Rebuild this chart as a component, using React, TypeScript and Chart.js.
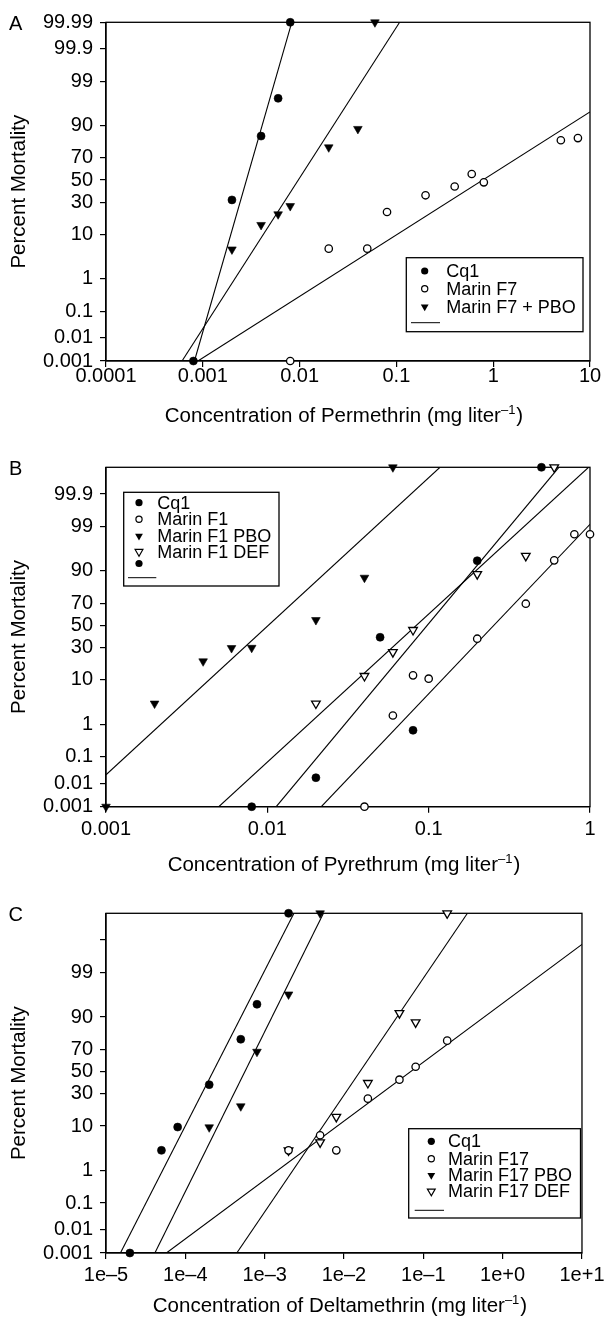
import React, { useEffect, useRef } from 'react';
import { Chart, registerables, LinearScale } from 'chart.js';

Chart.register(...registerables);

const FONT = "'Liberation Sans', Arial, Helvetica, sans-serif";
const TICK_SIZE = 20;
const TITLE_SIZE = 20.5;
const LEGEND_SIZE = 18;
Chart.defaults.font.family = FONT;
Chart.defaults.font.size = TICK_SIZE;
Chart.defaults.color = '#000';

// ---------------- DATA ----------------
// Panel A — Permethrin
const A_X_TICKS = [0.0001, 0.001, 0.01, 0.1, 1, 10];
const A_X_LABELS = ['0.0001', '0.001', '0.01', '0.1', '1', '10'];
const A_Y_TICKS = [0.001, 0.01, 0.1, 1, 10, 30, 50, 70, 90, 99, 99.9, 99.99];
const A_Y_LABELS = ['0.001', '0.01', '0.1', '1', '10', '30', '50', '70', '90', '99', '99.9', '99.99'];
const A_CQ1_X = [0.0008, 0.002, 0.004, 0.006, 0.008];
const A_CQ1_Y = [0.001, 32, 85, 97.3, 99.99];
const A_F7_X = [0.008, 0.02, 0.05, 0.08, 0.2, 0.4, 0.6, 0.8, 5, 7.5];
const A_F7_Y = [0.001, 5.3, 5.3, 22.6, 36, 44, 55.7, 47.9, 82.6, 83.9];
const A_PBO_X = [0.002, 0.004, 0.006, 0.008, 0.02, 0.04, 0.06];
const A_PBO_Y = [5.1, 14.5, 21, 27, 78, 88.6, 99.99];
const A_LINE_CQ1_X = [0.00082, 0.0083];
const A_LINE_CQ1_Y = [0.001, 99.99];
const A_LINE_F7_X = [0.00089, 10];
const A_LINE_F7_Y = [0.001, 94.6];
const A_LINE_PBO_X = [0.00061, 0.108];
const A_LINE_PBO_Y = [0.001, 99.99];
const A_NAMES = ['Cq1', 'Marin F7', 'Marin F7 + PBO'];

// Panel B — Pyrethrum
const B_X_TICKS = [0.001, 0.01, 0.1, 1];
const B_X_LABELS = ['0.001', '0.01', '0.1', '1'];
const B_Y_TICKS = [0.001, 0.01, 0.1, 1, 10, 30, 50, 70, 90, 99, 99.9];
const B_Y_LABELS = ['0.001', '0.01', '0.1', '1', '10', '30', '50', '70', '90', '99', '99.9'];
const B_CQ1_X = [0.008, 0.02, 0.05, 0.08, 0.2, 0.5];
const B_CQ1_Y = [0.001, 0.017, 39, 0.68, 93.6, 99.99];
const B_F1_X = [0.04, 0.06, 0.08, 0.1, 0.2, 0.4, 0.6, 0.8, 1];
const B_F1_Y = [0.001, 1.7, 12, 10.5, 37.7, 69.5, 93.7, 98.4, 98.4];
const B_PBO_X = [0.001, 0.002, 0.004, 0.006, 0.008, 0.02, 0.04, 0.06];
const B_PBO_Y = [0.001, 3.3, 19.9, 29.7, 29.9, 55, 86.9, 99.99];
const B_DEF_X = [0.02, 0.04, 0.06, 0.08, 0.2, 0.4, 0.6];
const B_DEF_Y = [3.3, 11.7, 26.5, 45.7, 88.6, 94.9, 99.99];
const B_LINE_PBO_X = [0.001, 0.1175];
const B_LINE_PBO_Y = [0.022, 99.99];
const B_LINE_DEF_X = [0.005, 0.98];
const B_LINE_DEF_Y = [0.001, 99.99];
const B_LINE_CQ1_X = [0.01135, 0.641];
const B_LINE_CQ1_Y = [0.001, 99.99];
const B_LINE_F1_X = [0.0216, 1];
const B_LINE_F1_Y = [0.001, 99.13];
const B_NAMES = ['Cq1', 'Marin F1', 'Marin F1 PBO', 'Marin F1 DEF', ''];

// Panel C — Deltamethrin
const C_X_TICKS = [1e-5, 1e-4, 1e-3, 1e-2, 1e-1, 1, 10];
const C_X_LABELS = ['1e\u20135', '1e\u20134', '1e\u20133', '1e\u20132', '1e\u20131', '1e+0', '1e+1'];
const C_Y_TICKS = [0.001, 0.01, 0.1, 1, 10, 30, 50, 70, 90, 99, 99.9];
const C_Y_LABELS = ['0.001', '0.01', '0.1', '1', '10', '30', '50', '70', '90', '99', ''];
const C_CQ1_X = [0.00002, 0.00005, 0.00008, 0.0002, 0.0005, 0.0008, 0.002];
const C_CQ1_Y = [0.001, 3.2, 9.6, 37.9, 77.6, 94.3, 99.99];
const C_F17_X = [0.002, 0.005, 0.008, 0.02, 0.05, 0.08, 0.2];
const C_F17_Y = [3.2, 6.7, 3.2, 26.2, 42.4, 54.5, 76.6];
const C_PBO_X = [0.0002, 0.0005, 0.0008, 0.002, 0.005];
const C_PBO_Y = [9.5, 20.7, 67.9, 96.5, 99.99];
const C_DEF_X = [0.002, 0.005, 0.008, 0.02, 0.05, 0.08, 0.2];
const C_DEF_Y = [3.2, 4.8, 14.3, 39.4, 91.5, 87.6, 99.99];
const C_LINE_CQ1_X = [1.52e-5, 0.00234];
const C_LINE_CQ1_Y = [0.001, 99.99];
const C_LINE_PBO_X = [4.13e-5, 0.00551];
const C_LINE_PBO_Y = [0.001, 99.99];
const C_LINE_F17_X = [5.77e-5, 10];
const C_LINE_F17_Y = [0.001, 99.86];
const C_LINE_DEF_X = [0.000445, 0.36];
const C_LINE_DEF_Y = [0.001, 99.99];
const C_NAMES = ['Cq1', 'Marin F17', 'Marin F17 PBO', 'Marin F17 DEF'];

const Y_TITLE = 'Percent Mortality';

// ---------------- PROBIT SCALE ----------------
function invNorm(p: number): number {
  const a = [-3.969683028665376e1, 2.209460984245205e2, -2.759285104469687e2, 1.38357751867269e2, -3.066479806614716e1, 2.506628277459239];
  const b = [-5.447609879822406e1, 1.615858368580409e2, -1.556989798598866e2, 6.680131188771972e1, -1.328068155288572e1];
  const c = [-7.784894002430293e-3, -3.223964580411365e-1, -2.400758277161838, -2.549671010135128, 4.374664141464968, 2.938163982698783];
  const d = [7.784695709041462e-3, 3.224671290700398e-1, 2.445134137142996, 3.754408661907416];
  const pl = 0.02425;
  if (p < pl) {
    const q = Math.sqrt(-2 * Math.log(p));
    return (((((c[0] * q + c[1]) * q + c[2]) * q + c[3]) * q + c[4]) * q + c[5]) / ((((d[0] * q + d[1]) * q + d[2]) * q + d[3]) * q + 1);
  }
  if (p <= 1 - pl) {
    const q = p - 0.5;
    const r = q * q;
    return ((((((a[0] * r + a[1]) * r + a[2]) * r + a[3]) * r + a[4]) * r + a[5]) * q) / (((((b[0] * r + b[1]) * r + b[2]) * r + b[3]) * r + b[4]) * r + 1);
  }
  const q = Math.sqrt(-2 * Math.log(1 - p));
  return -(((((c[0] * q + c[1]) * q + c[2]) * q + c[3]) * q + c[4]) * q + c[5]) / ((((d[0] * q + d[1]) * q + d[2]) * q + d[3]) * q + 1);
}
function probitPct(v: number): number {
  const p = Math.min(Math.max(v / 100, 1e-9), 1 - 1e-9);
  return invNorm(p);
}

class ProbitScale extends LinearScale {
  static id = 'probit';
  static defaults = {};
  determineDataLimits() {
    const o: any = (this as any).options;
    (this as any).min = probitPct(o.min);
    (this as any).max = probitPct(o.max);
  }
  buildTicks() {
    return [];
  }
  getPixelForValue(value: any) {
    if (value === null || value === undefined || isNaN(value)) return NaN;
    const s: any = this;
    return s.getPixelForDecimal((probitPct(value) - s._startValue) / s._valueRange);
  }
}
Chart.register(ProbitScale as any);

// ---------------- HELPERS ----------------
type Kind = 'dot' | 'ring' | 'tri' | 'otri';
const pts = (xs: number[], ys: number[]) => xs.map((x, i) => ({ x, y: ys[i] }));

function pointSet(label: string, xs: number[], ys: number[], kind: Kind) {
  const tri = kind === 'tri' || kind === 'otri';
  const filled = kind === 'dot' || kind === 'tri';
  return {
    label,
    data: pts(xs, ys),
    showLine: false,
    pointStyle: tri ? 'triangle' : 'circle',
    pointRotation: tri ? 180 : 0,
    pointRadius: tri ? 5 : filled ? 4 : 3.7,
    pointBackgroundColor: filled ? '#000' : '#fff',
    pointBorderColor: '#000',
    pointBorderWidth: filled ? 0.6 : 1.3,
    clip: false,
  };
}
function lineSet(xs: number[], ys: number[]) {
  return {
    label: '',
    data: pts(xs, ys),
    showLine: true,
    pointRadius: 0,
    borderColor: '#000',
    borderWidth: 1.1,
    fill: false,
  };
}

function drawMarker(ctx: CanvasRenderingContext2D, kind: Kind, x: number, y: number) {
  ctx.save();
  ctx.lineWidth = 1.2;
  ctx.strokeStyle = '#000';
  ctx.fillStyle = '#000';
  ctx.beginPath();
  if (kind === 'dot' || kind === 'ring') {
    ctx.arc(x, y, kind === 'dot' ? 3.6 : 3.1, 0, Math.PI * 2);
  } else {
    const r = 4.5;
    ctx.moveTo(x, y + r);
    ctx.lineTo(x - r * 0.866, y - r / 2);
    ctx.lineTo(x + r * 0.866, y - r / 2);
    ctx.closePath();
  }
  if (kind === 'ring' || kind === 'otri') {
    ctx.fillStyle = '#fff';
    ctx.fill();
    ctx.stroke();
  } else {
    ctx.fill();
  }
  ctx.restore();
}

type PanelCfg = {
  key: string;
  letter: string;
  canvasTop: number;
  canvasH: number;
  area: { top: number; bottom: number; left: number; right: number };
  xMin: number;
  xMax: number;
  xTicks: number[];
  xLabels: string[];
  yTicks: number[];
  yLabels: string[];
  xLabelCenter: number;
  titleMain: string;
  titleBaseline: number;
  letterY: number;
  legend: {
    box: [number, number, number, number];
    markerX: number;
    textX: number;
    rows: number[];
    kinds: Kind[];
    names: string[];
    lineY: number;
    lineX: [number, number];
  };
  datasets: any[];
};

const PANELS: PanelCfg[] = [
  {
    key: 'A',
    letter: 'A',
    canvasTop: 0,
    canvasH: 440,
    area: { top: 22.3, bottom: 361, left: 106, right: 590 },
    xMin: 0.0001,
    xMax: 10,
    xTicks: A_X_TICKS,
    xLabels: A_X_LABELS,
    yTicks: A_Y_TICKS,
    yLabels: A_Y_LABELS,
    xLabelCenter: 376,
    titleMain: 'Concentration of Permethrin (mg liter',
    titleBaseline: 422,
    letterY: 24,
    legend: {
      box: [406.3, 257.7, 583, 331.7],
      markerX: 424.7,
      textX: 446.3,
      rows: [271, 288.7, 306.7],
      kinds: ['dot', 'ring', 'tri'],
      names: A_NAMES,
      lineY: 322.7,
      lineX: [411, 440],
    },
    datasets: [
      pointSet(A_NAMES[0], A_CQ1_X, A_CQ1_Y, 'dot'),
      pointSet(A_NAMES[1], A_F7_X, A_F7_Y, 'ring'),
      pointSet(A_NAMES[2], A_PBO_X, A_PBO_Y, 'tri'),
      lineSet(A_LINE_CQ1_X, A_LINE_CQ1_Y),
      lineSet(A_LINE_F7_X, A_LINE_F7_Y),
      lineSet(A_LINE_PBO_X, A_LINE_PBO_Y),
    ],
  },
  {
    key: 'B',
    letter: 'B',
    canvasTop: 440,
    canvasH: 440,
    area: { top: 467.3, bottom: 806.7, left: 106, right: 590 },
    xMin: 0.001,
    xMax: 1,
    xTicks: B_X_TICKS,
    xLabels: B_X_LABELS,
    yTicks: B_Y_TICKS,
    yLabels: B_Y_LABELS,
    xLabelCenter: 829.5,
    titleMain: 'Concentration of Pyrethrum (mg liter',
    titleBaseline: 870.5,
    letterY: 469.3,
    legend: {
      box: [123.7, 492.3, 279, 586],
      markerX: 139,
      textX: 157.3,
      rows: [502.7, 519.3, 536, 551.7, 563.5],
      kinds: ['dot', 'ring', 'tri', 'otri', 'dot'],
      names: B_NAMES,
      lineY: 577.7,
      lineX: [128, 156.3],
    },
    datasets: [
      pointSet(B_NAMES[0], B_CQ1_X, B_CQ1_Y, 'dot'),
      pointSet(B_NAMES[1], B_F1_X, B_F1_Y, 'ring'),
      pointSet(B_NAMES[2], B_PBO_X, B_PBO_Y, 'tri'),
      pointSet(B_NAMES[3], B_DEF_X, B_DEF_Y, 'otri'),
      lineSet(B_LINE_PBO_X, B_LINE_PBO_Y),
      lineSet(B_LINE_DEF_X, B_LINE_DEF_Y),
      lineSet(B_LINE_CQ1_X, B_LINE_CQ1_Y),
      lineSet(B_LINE_F1_X, B_LINE_F1_Y),
    ],
  },
  {
    key: 'C',
    letter: 'C',
    canvasTop: 880,
    canvasH: 440,
    area: { top: 913.3, bottom: 1253, left: 106, right: 591 },
    xMin: 1e-5,
    xMax: 10,
    xTicks: C_X_TICKS,
    xLabels: C_X_LABELS,
    yTicks: C_Y_TICKS,
    yLabels: C_Y_LABELS,
    xLabelCenter: 1275.5,
    titleMain: 'Concentration of Deltamethrin (mg liter',
    titleBaseline: 1312,
    letterY: 915,
    legend: {
      box: [408.7, 1128.7, 580.5, 1218],
      markerX: 431.3,
      textX: 448,
      rows: [1141.3, 1158.7, 1175.3, 1191.3],
      kinds: ['dot', 'ring', 'tri', 'otri'],
      names: C_NAMES,
      lineY: 1210.3,
      lineX: [414.7, 444],
    },
    datasets: [
      pointSet(C_NAMES[0], C_CQ1_X, C_CQ1_Y, 'dot'),
      pointSet(C_NAMES[1], C_F17_X, C_F17_Y, 'ring'),
      pointSet(C_NAMES[2], C_PBO_X, C_PBO_Y, 'tri'),
      pointSet(C_NAMES[3], C_DEF_X, C_DEF_Y, 'otri'),
      lineSet(C_LINE_CQ1_X, C_LINE_CQ1_Y),
      lineSet(C_LINE_PBO_X, C_LINE_PBO_Y),
      lineSet(C_LINE_F17_X, C_LINE_F17_Y),
      lineSet(C_LINE_DEF_X, C_LINE_DEF_Y),
    ],
  },
];

function makeDecor(p: PanelCfg) {
  return {
    id: 'decor' + p.key,
    beforeDatasetsDraw(chart: any) {
      const { ctx, chartArea: a } = chart;
      ctx.save();
      ctx.strokeStyle = '#000';
      ctx.lineWidth = 1.3;
      ctx.strokeRect(a.left, a.top, a.right - a.left, a.bottom - a.top);
      ctx.restore();
    },
    afterDraw(chart: any) {
      const { ctx, chartArea: a } = chart;
      const dy = p.canvasTop;
      ctx.save();
      ctx.fillStyle = '#000';
      // panel letter
      ctx.font = `${TICK_SIZE}px ${FONT}`;
      ctx.textAlign = 'center';
      ctx.textBaseline = 'middle';
      ctx.fillText(p.letter, 15.6, p.letterY - dy);
      // y title
      ctx.font = `${TITLE_SIZE}px ${FONT}`;
      ctx.save();
      ctx.translate(19, (a.top + a.bottom) / 2);
      ctx.rotate(-Math.PI / 2);
      ctx.fillText(Y_TITLE, 0, 0);
      ctx.restore();
      // x title with superscript
      ctx.textAlign = 'left';
      ctx.textBaseline = 'alphabetic';
      const main = p.titleMain;
      const sup = '\u20131';
      const supSize = 13;
      ctx.font = `${TITLE_SIZE}px ${FONT}`;
      const wMain = ctx.measureText(main).width;
      const wClose = ctx.measureText(')').width;
      ctx.font = `${supSize}px ${FONT}`;
      const wSup = ctx.measureText(sup).width;
      const total = wMain + wSup + 1 + wClose;
      const cx = (a.left + a.right) / 2 - 4;
      let x0 = cx - total / 2;
      const by = p.titleBaseline - dy;
      ctx.font = `${TITLE_SIZE}px ${FONT}`;
      ctx.fillText(main, x0, by);
      x0 += wMain;
      ctx.font = `${supSize}px ${FONT}`;
      ctx.fillText(sup, x0, by - 8);
      x0 += wSup + 1;
      ctx.font = `${TITLE_SIZE}px ${FONT}`;
      ctx.fillText(')', x0, by);
      // legend
      const L = p.legend;
      const [bx0, by0, bx1, by1] = L.box;
      ctx.fillStyle = '#fff';
      ctx.fillRect(bx0, by0 - dy, bx1 - bx0, by1 - by0);
      ctx.strokeStyle = '#000';
      ctx.lineWidth = 1.3;
      ctx.strokeRect(bx0, by0 - dy, bx1 - bx0, by1 - by0);
      ctx.fillStyle = '#000';
      ctx.textBaseline = 'middle';
      ctx.font = `${LEGEND_SIZE}px ${FONT}`;
      L.rows.forEach((ry, i) => {
        drawMarker(ctx, L.kinds[i], L.markerX, ry - dy);
        if (L.names[i]) ctx.fillText(L.names[i], L.textX, ry - dy + 1);
      });
      ctx.beginPath();
      ctx.lineWidth = 1;
      ctx.moveTo(L.lineX[0], L.lineY - dy);
      ctx.lineTo(L.lineX[1], L.lineY - dy);
      ctx.stroke();
      ctx.restore();
    },
  };
}

function buildConfig(p: PanelCfg): any {
  const tl = 6;
  const xPad = p.xLabelCenter - p.area.bottom - tl - TICK_SIZE / 2;
  return {
    type: 'scatter',
    data: { datasets: p.datasets },
    plugins: [makeDecor(p)],
    options: {
      responsive: false,
      devicePixelRatio: 1,
      animation: false,
      events: [],
      layout: {
        padding: {
          top: p.area.top - p.canvasTop,
          left: 0,
          right: 611 - p.area.right,
          bottom: 0,
        },
      },
      plugins: { legend: { display: false }, tooltip: { enabled: false } },
      scales: {
        x: {
          type: 'logarithmic',
          position: 'bottom',
          min: p.xMin,
          max: p.xMax,
          afterBuildTicks: (s: any) => {
            s.ticks = p.xTicks.map((v) => ({ value: v }));
          },
          afterFit: (s: any) => {
            s.height = p.canvasTop + p.canvasH - p.area.bottom;
          },
          grid: { display: true, drawOnChartArea: false, drawTicks: true, tickLength: tl, color: '#000', lineWidth: 1.2 },
          border: { display: true, color: '#000', width: 1.3 },
          ticks: {
            color: '#000',
            font: { size: TICK_SIZE, family: FONT, lineHeight: 1 },
            padding: xPad,
            autoSkip: false,
            maxRotation: 0,
            minRotation: 0,
            callback: (_v: any, i: number) => p.xLabels[i],
          },
        },
        y: {
          type: 'probit',
          position: 'left',
          min: 0.001,
          max: 99.99,
          afterBuildTicks: (s: any) => {
            s.ticks = p.yTicks.map((v) => ({ value: v }));
          },
          afterFit: (s: any) => {
            s.width = p.area.left;
          },
          grid: { display: true, drawOnChartArea: false, drawTicks: true, tickLength: tl, color: '#000', lineWidth: 1.2 },
          border: { display: true, color: '#000', width: 1.3 },
          ticks: {
            color: '#000',
            font: { size: TICK_SIZE, family: FONT, lineHeight: 1 },
            padding: 7,
            autoSkip: false,
            callback: (_v: any, i: number) => p.yLabels[i],
          },
        },
      },
    },
  };
}

function Panel({ p }: { p: PanelCfg }) {
  const ref = useRef<HTMLCanvasElement>(null);
  useEffect(() => {
    if (!ref.current) return;
    const chart = new Chart(ref.current, buildConfig(p));
    return () => chart.destroy();
  }, [p]);
  return (
    <canvas
      ref={ref}
      width={611}
      height={p.canvasH}
      style={{ position: 'absolute', left: 0, top: p.canvasTop, width: 611, height: p.canvasH, display: 'block' }}
    />
  );
}

export default function App() {
  return (
    <div style={{ position: 'absolute', left: 0, top: 0, width: 611, height: 1320, background: '#fff' }}>
      {PANELS.map((p) => (
        <Panel key={p.key} p={p} />
      ))}
    </div>
  );
}
